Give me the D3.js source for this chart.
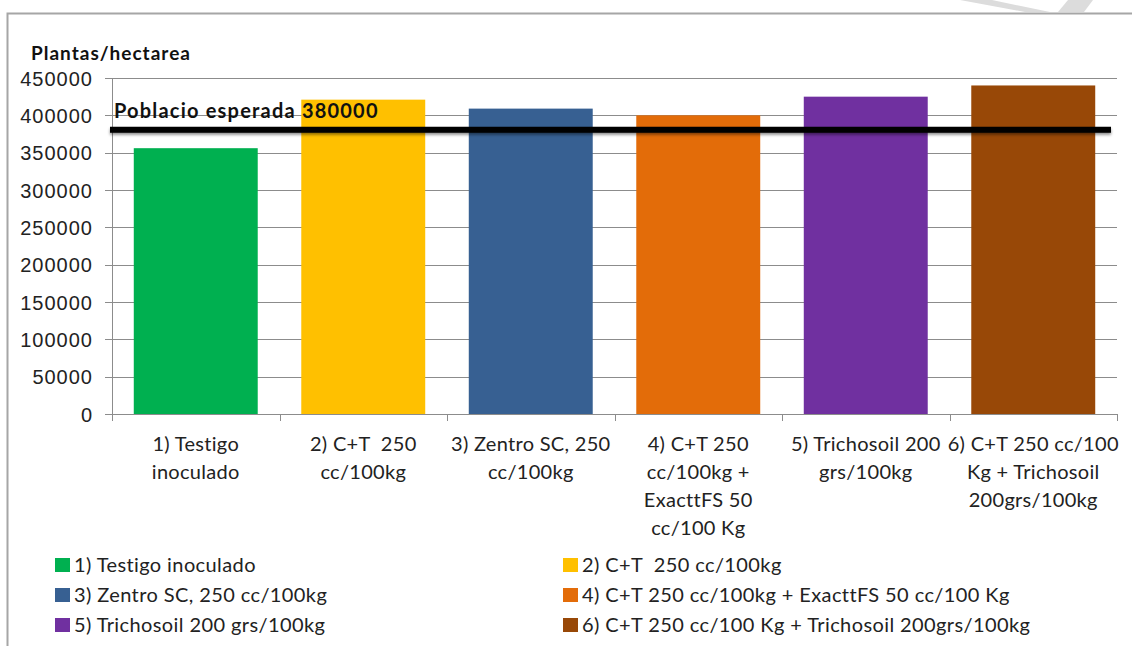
<!DOCTYPE html>
<html lang="es">
<head>
    <meta charset="utf-8" />
    <title>Plantas/hectarea</title>
    <style>
        body { margin: 0; background: #fff; }
        svg { display: block; font-family: Lato, "Open Sans", sans-serif; }
        svg text { white-space: pre; }
        .grid line { stroke: #8c8c8c; stroke-width: 1; shape-rendering: crispEdges; }
        .axis path, .axis line { fill: none; stroke: #8c8c8c; shape-rendering: crispEdges; }
        .y.axis text { font-size: 20px; letter-spacing: 1px; fill: #222; }
        .x.axis text { font-size: 20px; letter-spacing: 0.3px; fill: #222; }
        .legend text { font-size: 20px; letter-spacing: 0.4px; fill: #222; }
    </style>
</head>
<body>
<div id="graph"></div>
<script src="https://cdn.jsdelivr.net/npm/d3@7"></script>
<script>
    // categories (x labels, one line per array entry)
    var categories = ["1) Testigo inoculado", "2) C+T  250 cc/100kg", "3) Zentro SC, 250 cc/100kg",
                      "4) C+T 250 cc/100kg + ExacttFS 50 cc/100 Kg", "5) Trichosoil 200 grs/100kg",
                      "6) C+T 250 cc/100 Kg + Trichosoil 200grs/100kg"];
    var labelLines = [["1) Testigo", "inoculado"],
                      ["2) C+T  250", "cc/100kg"],
                      ["3) Zentro SC, 250", "cc/100kg"],
                      ["4) C+T 250", "cc/100kg +", "ExacttFS 50", "cc/100 Kg"],
                      ["5) Trichosoil 200", "grs/100kg"],
                      ["6) C+T 250 cc/100", "Kg + Trichosoil", "200grs/100kg"]];
    var values = [356000, 421000, 409000, 400000, 425000, 440000];
    var colors = ["#00b050", "#ffc000", "#376092", "#e36c09", "#7030a0", "#984807"];
    var yTicks = [0, 50000, 100000, 150000, 200000, 250000, 300000, 350000, 400000, 450000];
    var expected = 380000;

    var W = 1132, H = 646;
    var margin = { top: 78, right: 15, bottom: 232, left: 112 },
        width = W - margin.left - margin.right,
        height = H - margin.top - margin.bottom;

    var x = d3.scaleBand()
        .domain(categories)
        .range([0, width])
        .paddingInner(0.26)
        .paddingOuter(0.13);

    var y = d3.scaleLinear()
        .domain([0, 450000])
        .range([height, 0]);

    var root = d3.select("#graph").append("svg")
        .attr("width", W)
        .attr("height", H);

    // frame + faint watermark at the top right
    root.append("path")
        .attr("d", "M7.5," + H + "V13.5H" + W)
        .attr("fill", "none")
        .attr("stroke", "#a6a6a6")
        .attr("stroke-width", 2);
    root.append("polygon")
        .attr("points", "960,0 992,0 1050,12 1025,12")
        .attr("fill", "#dcdcdc");
    root.append("polygon")
        .attr("points", "1068,0 1093,0 1084,12 1058,12")
        .attr("fill", "#dcdcdc");

    var svg = root.append("g")
        .attr("transform", "translate(" + margin.left + "," + margin.top + ")");

    // gridlines
    svg.append("g")
        .attr("class", "grid")
        .selectAll("line")
        .data(yTicks.slice(1))
        .enter().append("line")
        .attr("x1", 0)
        .attr("x2", width)
        .attr("y1", function (d) { return Math.round(y(d)) + 0.5; })
        .attr("y2", function (d) { return Math.round(y(d)) + 0.5; });

    // y axis
    var yAxis = d3.axisLeft(y).tickValues(yTicks).tickSize(7).tickPadding(12).tickFormat(d3.format("d"));
    svg.append("g")
        .attr("class", "y axis")
        .call(yAxis)
        .call(function (g) { g.select(".domain").attr("d", "M0.5," + (height + 7) + "V0.5"); })
        .selectAll("text")
        .attr("dy", "0.36em");

    // bars
    svg.selectAll(".bar")
        .data(values)
        .enter().append("rect")
        .attr("class", "bar")
        .attr("x", function (d, i) { return x(categories[i]); })
        .attr("width", x.bandwidth())
        .attr("y", function (d) { return y(d); })
        .attr("height", function (d) { return height - y(d); })
        .attr("fill", function (d, i) { return colors[i]; });

    // x axis: ticks on category boundaries
    var bounds = d3.range(categories.length + 1).map(function (i) { return i * width / categories.length; });
    var xg = svg.append("g").attr("class", "x axis");
    xg.append("line")
        .attr("x1", 0).attr("x2", width)
        .attr("y1", height + 0.5).attr("y2", height + 0.5);
    xg.selectAll(".tk")
        .data(bounds)
        .enter().append("line")
        .attr("class", "tk")
        .attr("x1", function (d) { return Math.round(d) + 0.5; })
        .attr("x2", function (d) { return Math.round(d) + 0.5; })
        .attr("y1", height)
        .attr("y2", height + 7);

    var lbl = xg.selectAll(".lbl")
        .data(labelLines)
        .enter().append("text")
        .attr("class", "lbl")
        .attr("text-anchor", "middle")
        .attr("transform", function (d, i) {
            return "translate(" + (x(categories[i]) + x.bandwidth() / 2) + "," + (height + 37) + ")";
        });
    lbl.selectAll("tspan")
        .data(function (d) { return d; })
        .enter().append("tspan")
        .attr("x", 0)
        .attr("y", function (d, j) { return j * 28; })
        .text(function (d) { return d; });

    // expected population line (drawn as a rect so the shadow filter has a box)
    var defs = root.append("defs");
    var f = defs.append("filter").attr("id", "shadow").attr("x", "-2%").attr("y", "-100%")
        .attr("width", "104%").attr("height", "300%");
    f.append("feGaussianBlur").attr("in", "SourceAlpha").attr("stdDeviation", 1.5).attr("result", "b");
    f.append("feOffset").attr("in", "b").attr("dy", 2).attr("result", "o");
    f.append("feComponentTransfer").attr("in", "o").attr("result", "o2")
        .append("feFuncA").attr("type", "linear").attr("slope", 0.45);
    var m = f.append("feMerge");
    m.append("feMergeNode").attr("in", "o2");
    m.append("feMergeNode").attr("in", "SourceGraphic");

    svg.append("rect")
        .attr("x", -2)
        .attr("width", width - 4)
        .attr("y", y(expected) - 3.5)
        .attr("height", 6)
        .attr("fill", "#000")
        .attr("filter", "url(#shadow)");

    svg.append("text")
        .attr("x", 2)
        .attr("y", y(expected) - 12)
        .attr("font-size", 20)
        .attr("letter-spacing", "1.2px")
        .attr("font-weight", "bold")
        .attr("fill", "#111")
        .text("Poblacio esperada 380000");

    // axis title
    root.append("text")
        .attr("x", 31)
        .attr("y", 60)
        .attr("font-size", 19)
        .attr("letter-spacing", "1px")
        .attr("font-weight", "bold")
        .attr("fill", "#111")
        .text("Plantas/hectarea");

    // legend: two columns, three rows
    var legend = root.append("g").attr("class", "legend");
    var item = legend.selectAll(".item")
        .data(categories)
        .enter().append("g")
        .attr("class", "item")
        .attr("transform", function (d, i) {
            return "translate(" + (i % 2 === 0 ? 55 : 563) + "," + (565 + Math.floor(i / 2) * 30) + ")";
        });
    item.append("rect")
        .attr("x", 0).attr("y", -7)
        .attr("width", 15).attr("height", 14)
        .attr("fill", function (d, i) { return colors[i]; });
    item.append("text")
        .attr("x", 19)
        .attr("dy", "0.36em")
        .text(function (d) { return d; });
</script>
</body>
</html>
